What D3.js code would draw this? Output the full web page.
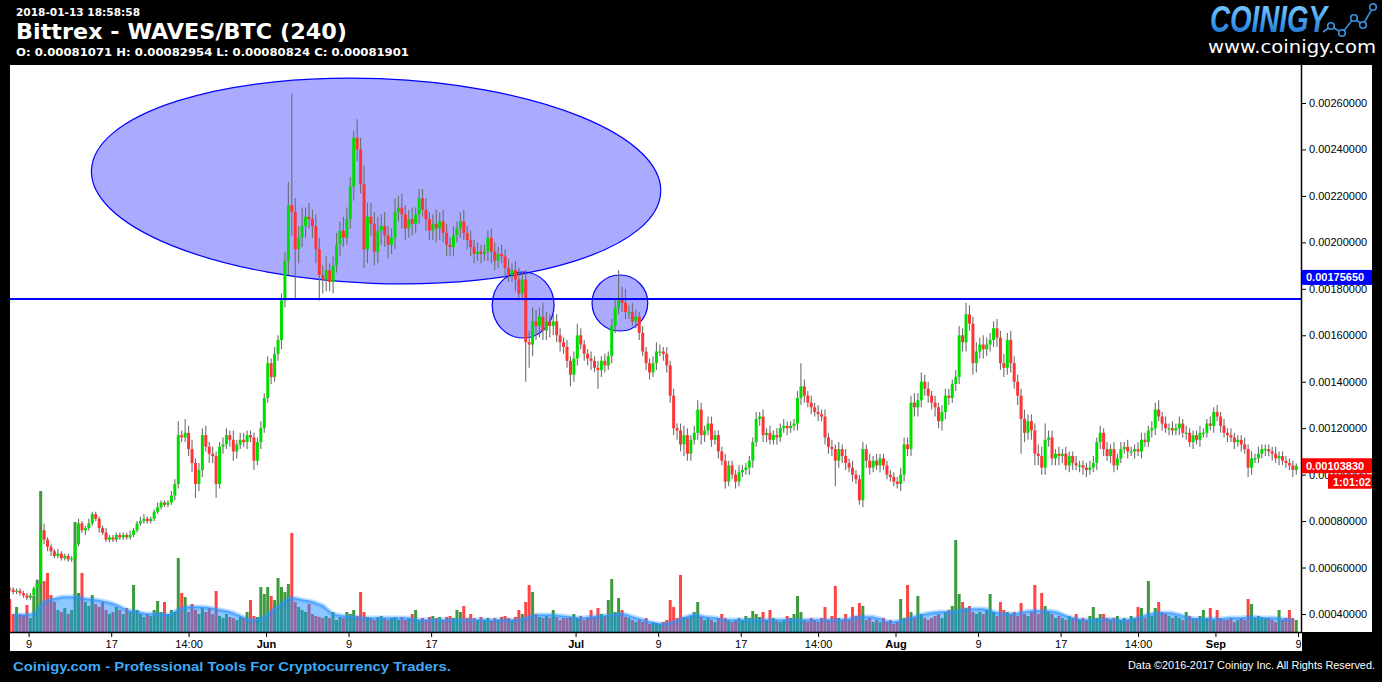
<!DOCTYPE html>
<html><head><meta charset="utf-8">
<script src="https://cdn.jsdelivr.net/npm/d3@7"></script>
<style>html,body{margin:0;padding:0;background:#000;overflow:hidden}</style>
</head><body>
<svg id="chart" width="1382" height="682"></svg>
<script>
// ---------------- DATA ----------------
const PRICE_UNIT = 1e-5;           // values below are in units of 0.00001 BTC
const firstOpen = 51;
const closes = [50.5,49.5,50, 49,48,47, 48,51,53, 76,72,69, 67,65,66, 64,65,63.5, 64,70,79, 76,77,79, 83,81,77, 75,72,73, 72,74,73, 74,73,74, 76,79,80, 81,80,81, 84,86,88, 87,88,91,
 96,117,116, 118,111,105, 96,102,117, 112,109,108, 96,112,113, 117,115,110, 113,115,114, 117,116,106, 114,120,133, 148,142,152, 158,175,192,
 216,213,197, 202,207,211, 210,207,197, 186,184,188, 183,190,199, 205,202,210, 224,245,240, 225,197,211, 208,196,205, 207,203,199, 202,213,215, 212,206,210, 208,212,219, 214,210,205, 208,206,209, 204,199,198, 203,206,209, 204,201,198, 195,196,195, 196,202,196, 192,195,194, 189,186,188, 184,178,184, 157,156,166, 164,168,162, 166,164,166,
 160,157,155, 149,143,150, 160,156,152, 150,149,146, 145,149,147, 151,164,172, 176,174,170, 170,166,168, 161,153,148, 144,148,153, 153,152,147, 134,120,119, 113,117,109, 115,118,128, 117,119,122, 115,117,110, 106,97,104, 100,97,101, 102,103,106, 114,124,125, 117,118,115, 117,116,120, 121,120,121, 122,133,138, 134,131,129, 127,126,125, 116,112,111, 106,111,108, 105,103,100, 98,89,111, 106,103,106, 104,107,104, 100,99,97,
 96,100,113, 111,131,129, 132,140,137, 134,131,129, 123,127,134, 133,139,142, 160,157,169, 165,148,153, 156,154,156, 158,163,159, 148,146,158, 148,140,134, 124,118,123, 119,109,108, 103,115,116, 107,109,108, 109,104,108, 105,104,104, 103,102,103, 105,114,118, 111,108,111, 104,107,111, 112,110,110, 111,110,115, 114,119,120, 128,125,122, 120,120,119, 120,122,118, 118,114,117, 115,118,118, 122,121,127, 125,121,118, 117,116,114, 115,113,111, 103,107,107, 109,111,111, 110,109,107, 108,106,105, 104,102,103.83];
const wickUp = [1,1,1, 1,1,1, 1,1,2, 2,3,1, 1,1,2, 1,1,1, 1,1,2, 1,1,2, 1,1,1, 1,2,1, 1,1,1, 1,1,2, 1,1,2, 2,1,1, 1,2,1, 1,1,2,
 2,6,2, 6,3,4, 2,3,3, 4,2,3, 2,2,3, 3,2,4, 2,3,3, 2,2,2, 2,3,2, 3,2,3, 2,3,4,
 10,48,6, 5,8,4, 6,4,5, 5,4,6, 3,4,5, 4,6,5, 4,3,8, 5,8,6, 6,5,6, 5,6,4, 4,6,5, 6,4,4, 5,3,4, 4,5,3, 4,6,4, 5,4,3, 4,3,4, 5,3,4, 3,4,3, 3,3,4, 4,3,4, 3,4,3, 4,5,3, 4,5,6, 5,4,6, 4,3,4,
 3,3,2, 3,2,3, 5,3,2, 2,3,2, 3,2,3, 2,3,4, 12,5,6, 3,4,3, 2,3,2, 2,3,4, 3,2,3, 2,3,2, 3,4,3, 2,3,4, 3,2,3, 3,2,2, 2,3,2, 2,2,3, 2,2,2, 2,3,2, 3,2,3, 2,3,2, 3,2,2, 2,3,10, 3,2,3, 2,3,2, 3,2,3, 2,3,2, 3,2,3, 2,2,3, 2,3,2, 3,2,2, 2,2,2,
 2,3,3, 3,3,4, 3,4,3, 3,2,3, 2,3,3, 3,2,3, 4,3,5, 4,3,4, 3,4,3, 3,3,4, 3,4,3, 4,3,3, 3,4,3, 3,3,4, 4,7,3, 3,2,3, 2,3,2, 2,3,2, 2,2,3, 3,2,3, 2,3,2, 3,2,3, 2,3,2, 2,3,3, 3,2,3, 3,4,2, 3,2,3, 2,3,2, 3,2,2, 2,3,2, 2,3,2, 3,2,3, 2,3,2, 2,2,3, 2,3,2, 3,2,2, 2,2,3, 2,2,2, 2,2,1];
const wickDn = [1,1,1, 1,1,1, 1,1,1, 1,2,2, 2,1,1, 1,1,1, 1,1,1, 1,2,1, 1,1,2, 1,1,1, 1,1,1, 1,1,1, 1,1,1, 1,1,1, 1,1,1, 1,1,1,
 2,2,2, 2,3,4, 6,3,3, 2,4,3, 6,2,3, 2,3,4, 3,2,2, 3,2,4, 2,3,2, 2,3,2, 3,4,3,
 6,10,21, 6,4,5, 4,5,6, 11,6,5, 4,5,3, 5,4,3, 4,6,5, 4,8,6, 5,6,5, 6,5,6, 4,5,4, 6,5,4, 5,4,4, 3,5,4, 4,6,5, 4,5,4, 4,3,4, 3,4,4, 4,3,4, 3,4,5, 4,3,3, 4,3,3, 5,3,3, 17,10,5, 6,5,4, 4,5,4,
 3,4,3, 3,5,3, 3,2,3, 3,4,2, 8,3,3, 2,3,3, 3,4,3, 3,2,3, 3,2,3, 3,2,3, 2,3,3, 3,3,4, 3,5,3, 3,2,3, 4,3,2, 3,2,3, 2,3,2, 2,3,2, 2,2,3, 3,2,3, 3,3,2, 2,3,2, 2,3,2, 2,3,3, 3,2,3, 2,3,2, 3,3,3, 11,3,3, 3,2,3, 2,2,3, 3,3,2, 2,3,2, 2,2,2,
 2,3,3, 3,3,4, 4,3,3, 3,3,4, 3,4,3, 3,2,3, 3,4,4, 3,5,4, 3,4,3, 3,3,4, 3,4,3, 4,3,4, 15,4,3, 4,5,4, 3,3,3, 3,3,4, 3,2,3, 3,2,3, 3,3,2, 2,3,3, 3,2,3, 3,2,2, 2,3,2, 3,2,3, 2,2,3, 3,2,3, 2,3,2, 2,3,2, 3,2,3, 2,3,2, 2,2,3, 2,3,2, 3,2,3, 2,3,2, 4,3,2, 2,2,3, 2,3,2, 3,2,2, 2,3,2];
const volumes = [33,18,25, 18,17,27, 14,36,52, 141,51,59, 37,30,22, 20,24,18, 22,110,39, 59,30,26, 37,28,25, 30,22,18, 20,25,22, 18,24,20, 47,22,18, 15,18,16, 22,31,20, 30,18,22,
 20,74,39, 35,20,28, 22,18,24, 20,24,18, 41,16,14, 18,15,14, 12,15,14, 20,32,16, 15,45,38, 45,36,32, 54,45,40,
 48,99,30, 25,22,20, 28,18,16, 15,14,16, 14,20,12, 15,14,20, 18,22,16, 40,20,15, 14,12,15, 16,14,12, 14,15,12, 15,12,14, 18,22,12, 14,12,15, 16,14,15, 12,15,16, 14,22,20, 26,14,18, 14,12,15, 12,14,11, 14,12,15, 16,14,12, 15,22,18, 30,47,40, 18,15,14, 16,14,22,
 15,12,14, 14,15,18, 14,16,12, 14,22,15, 24,18,16, 32,53,20, 34,22,15, 14,12,10, 12,10,14, 8,10,9, 8,10,12, 32,25,14, 57,15,14, 16,20,30, 15,12,14, 12,10,14, 18,14,12, 10,12,14, 12,16,14, 21,18,15, 20,12,22, 14,12,10, 12,16,14, 18,36,20, 12,10,14, 12,10,14, 25,12,16, 46,14,12, 18,12,25, 16,29,26, 12,14,10, 12,10,14, 10,12,8,
 10,33,14, 47,20,14, 36,18,14, 12,14,16, 18,14,20, 22,26,92, 38,30,24, 26,20,18, 20,18,22, 38,20,16, 30,22,20, 18,20,16, 29,18,16, 20,47,18, 39,26,20, 18,14,16, 14,12,16, 14,18,12, 14,12,16, 25,14,18, 18,14,12, 14,16,12, 14,12,16, 14,25,24, 14,51,16, 24,30,20, 18,16,14, 16,14,12, 20,16,14, 14,16,22, 14,24,12, 22,14,12, 12,14,10, 12,14,12, 33,28,14, 16,15,14, 14,12,10, 22,12,14, 22,14,12];
// daily volume moving average (same volume units)
const volMA = [17,17,18, 30, 33,35,35,33,32,30,27,22,20,18,18,17,
 22,25,25,24,22,20,16,12,13,20,28, 34,32,30,26,18,16,15, 14,14,14,14,14,
 12,12,12,12,12,12,12,12,12,12,12, 15,17,17,
 16,15,14,15,16,17,18,15,12,9,8,10,14,17,
 15,14,12,12,12,12,12,12,12,12,12,12,12,12,13,15,15,13,
 10,11,14,17,19,20,20,22,23,23,20,18,18,20,21,21,20,
 16,13,12,12,13,12,12,14,17,19,19,17,14,13,13,13,14,14,15,14,14,13,12];
const priceTicks = [0.0004,0.0006,0.0008,0.0010,0.0012,0.0014,0.0016,0.0018,0.0020,0.0022,0.0024,0.0026];
const xTickDates = ["2018-05-09T00:00Z","2018-05-17T00:00Z","2018-05-24T12:00Z","2018-06-01T00:00Z","2018-06-09T00:00Z","2018-06-17T00:00Z","2018-07-01T00:00Z","2018-07-09T00:00Z","2018-07-17T00:00Z","2018-07-24T12:00Z","2018-08-01T00:00Z","2018-08-09T00:00Z","2018-08-17T00:00Z","2018-08-24T12:00Z","2018-09-01T00:00Z","2018-09-09T00:00Z"];
const xTickLabels = ["9","17","14:00","Jun","9","17","Jul","9","17","14:00","Aug","9","17","14:00","Sep","9"];
const monthLabels = ["Jun","Jul","Aug","Sep"];
const hLinePrice = 0.00175650;
const lastPrice = 0.00103830;
const countdown = "1:01:02";
const annotations = [
  {center:"2018-06-11T16:00Z", price:0.0022642, rxDays:27.6, ryPrice:0.000441, rotate:2.2},
  {center:"2018-06-25T22:00Z", price:0.0017303, rxDays:3.0, ryPrice:0.000142, rotate:0},
  {center:"2018-07-05T07:00Z", price:0.0017389, rxDays:2.7, ryPrice:0.0001205, rotate:0}
];
const headerDate = "2018-01-13 18:58:58";
const headerTitle = "Bittrex - WAVES/BTC (240)";
const headerOHLC = "O: 0.00081071 H: 0.00082954 L: 0.00080824 C: 0.00081901";
const footerLeft = "Coinigy.com - Professional Tools For Cryptocurrency Traders.";
const footerRight = "Data ©2016-2017 Coinigy Inc. All Rights Reserved.";

// ---------------- CHART ----------------
const W = 1382, H = 682;
const svg = d3.select('#chart');
const defs = svg.append('defs');
defs.append('clipPath').attr('id','plotClip').append('rect').attr('x',10).attr('y',65).attr('width',1291).attr('height',567);
defs.append('clipPath').attr('id','xAxisClip').append('rect').attr('x',10).attr('y',632).attr('width',1291).attr('height',20);
const grad = defs.append('linearGradient').attr('id','logoGrad').attr('x1',0).attr('y1',0).attr('x2',0).attr('y2',1);
grad.append('stop').attr('offset','0%').attr('stop-color','#8fd6ff');
grad.append('stop').attr('offset','55%').attr('stop-color','#3f9ef0');
grad.append('stop').attr('offset','100%').attr('stop-color','#1560c0');

svg.append('rect').attr('width',W).attr('height',H).attr('fill','#000');
svg.append('rect').attr('x',10).attr('y',65).attr('width',1362).attr('height',567).attr('fill','#fff');
svg.append('rect').attr('x',10).attr('y',632).attr('width',1292).attr('height',19).attr('fill','#fff');

const x = d3.scaleUtc().domain([new Date("2018-06-01T00:00Z"), new Date("2018-09-09T00:00Z")]).range([266,1298]);
const y = d3.scaleLinear().domain([0.0004,0.0026]).range([614,103]);
const vy = d3.scaleLinear().domain([0,140]).range([632,492]);

const t0 = Date.UTC(2018,4,7,4);
const H8 = 8*3600e3, DAY = 24*3600e3;
const candles = closes.map((c,i)=>{
  const o = i===0 ? firstOpen : closes[i-1];
  return {t:new Date(t0+i*H8), o:o*PRICE_UNIT, c:c*PRICE_UNIT,
    h:(Math.max(o,c)+(wickUp[i]||0))*PRICE_UNIT, l:(Math.min(o,c)-(wickDn[i]||0))*PRICE_UNIT, v:volumes[i]||0};
});
const maData = volMA.map((v,d)=>({t:new Date(Date.UTC(2018,4,7,12)+d*DAY), v}));

const plot = svg.append('g').attr('clip-path','url(#plotClip)');
const pxPerDay = x(new Date("2018-06-02T00:00Z")) - x(new Date("2018-06-01T00:00Z"));

// annotations (ellipses) behind candles
annotations.forEach(a=>{
  const cx = x(new Date(a.center)), cy = y(a.price);
  plot.append('ellipse').attr('cx',cx).attr('cy',cy)
    .attr('rx',a.rxDays*pxPerDay).attr('ry',y(a.price-a.ryPrice)-cy)
    .attr('transform',`rotate(${a.rotate},${cx},${cy})`)
    .attr('fill','rgba(0,0,255,0.333)').attr('stroke','#0000ff').attr('stroke-width',1.2);
});

// volume bars
plot.append('g').selectAll('rect').data(candles).join('rect')
  .attr('x',d=>x(d.t)-1.5).attr('width',3)
  .attr('y',d=>vy(d.v)).attr('height',d=>632-vy(d.v))
  .attr('fill',d=>d.c>=d.o ? '#3d9a3d' : '#ff4444');

// volume MA area
const area = d3.area().x(d=>x(d.t)).y0(632).y1(d=>vy(d.v)).curve(d3.curveMonotoneX);
const line = d3.line().x(d=>x(d.t)).y(d=>vy(d.v)).curve(d3.curveMonotoneX);
plot.append('path').datum(maData).attr('d',area).attr('fill','rgba(30,144,255,0.5)');
plot.append('path').datum(maData).attr('d',line).attr('fill','none').attr('stroke','rgba(30,144,255,0.3)').attr('stroke-width',5);
plot.append('path').datum(maData).attr('d',line).attr('fill','none').attr('stroke','rgba(50,150,255,0.7)').attr('stroke-width',1.5);

// candles
const cg = plot.append('g');
cg.selectAll('line').data(candles).join('line')
  .attr('x1',d=>x(d.t)).attr('x2',d=>x(d.t))
  .attr('y1',d=>y(d.h)).attr('y2',d=>y(d.l))
  .attr('stroke','#6e6e6e').attr('stroke-width',1.1);
cg.selectAll('rect').data(candles).join('rect')
  .attr('x',d=>x(d.t)-1.5).attr('width',3)
  .attr('y',d=>y(Math.max(d.o,d.c)))
  .attr('height',d=>Math.max(1.2, Math.abs(y(d.o)-y(d.c))))
  .attr('fill',d=>d.c>=d.o ? '#00dd00' : '#ff3535');

// horizontal line
plot.append('line').attr('x1',10).attr('x2',1301).attr('y1',y(hLinePrice)).attr('y2',y(hLinePrice))
  .attr('stroke','#0000ff').attr('stroke-width',2);

// right axis
const yAxis = d3.axisRight(y).tickValues(priceTicks).tickFormat(d3.format('.8f')).tickSize(5).tickPadding(3);
const ga = svg.append('g').attr('transform','translate(1301,0)').call(yAxis);
ga.select('.domain').remove();
ga.attr('font-family','Liberation Sans, Arial, sans-serif').attr('font-size',11);
ga.selectAll('text').attr('fill','#000');
ga.selectAll('line').attr('stroke','#000');
svg.append('line').attr('x1',1301.5).attr('x2',1301.5).attr('y1',65).attr('y2',633).attr('stroke','#000').attr('stroke-width',1.5);

// bottom axis
const xAxis = d3.axisBottom(x).tickValues(xTickDates.map(s=>new Date(s))).tickFormat((d,i)=>xTickLabels[i]).tickSize(5).tickPadding(3);
const gxo = svg.append('g').attr('clip-path','url(#xAxisClip)');
const gx = gxo.append('g').attr('transform','translate(0,632)').call(xAxis);
gx.select('.domain').remove();
gx.attr('font-family','Liberation Sans, Arial, sans-serif').attr('font-size',11);
gx.selectAll('text').attr('fill','#000')
  .each(function(d,i){ if(monthLabels.includes(xTickLabels[i])) d3.select(this).attr('font-weight','bold'); });
gx.selectAll('line').attr('stroke','#000');
svg.append('line').attr('x1',10).attr('x2',1302).attr('y1',632.5).attr('y2',632.5).attr('stroke','#000').attr('stroke-width',1.5);

// price boxes
const fmt = d3.format('.8f');
const hy = y(hLinePrice);
svg.append('rect').attr('x',1302).attr('y',hy-29).attr('width',70).attr('height',15).attr('fill','#0000ff');
svg.append('text').attr('x',1306).attr('y',hy-17.5).text(fmt(hLinePrice))
  .attr('fill','#fff').attr('font-family','Liberation Sans, Arial, sans-serif').attr('font-size',11).attr('font-weight','bold');
const ly = y(lastPrice);
svg.append('rect').attr('x',1302).attr('y',ly-7.5).attr('width',70).attr('height',15).attr('fill','#ff0000');
svg.append('text').attr('x',1306).attr('y',ly+4).text(fmt(lastPrice))
  .attr('fill','#fff').attr('font-family','Liberation Sans, Arial, sans-serif').attr('font-size',11).attr('font-weight','bold');
svg.append('rect').attr('x',1328).attr('y',ly+8.5).attr('width',44).attr('height',14.5).attr('fill','#ff0000');
svg.append('text').attr('x',1333).attr('y',ly+20).text(countdown)
  .attr('fill','#fff').attr('font-family','Liberation Sans, Arial, sans-serif').attr('font-size',11).attr('font-weight','bold');

// header
const hf = 'DejaVu Sans, Verdana, sans-serif';
svg.append('text').attr('x',16).attr('y',16).text(headerDate).attr('fill','#fff').attr('font-family',hf)
  .attr('font-size',10.5).attr('font-weight','bold').attr('textLength',124).attr('lengthAdjust','spacingAndGlyphs');
svg.append('text').attr('x',16).attr('y',39).text(headerTitle).attr('fill','#fff').attr('font-family',hf)
  .attr('font-size',22).attr('font-weight','bold').attr('textLength',331).attr('lengthAdjust','spacingAndGlyphs');
svg.append('text').attr('x',16).attr('y',56).text(headerOHLC).attr('fill','#fff').attr('font-family',hf)
  .attr('font-size',10.5).attr('font-weight','bold').attr('textLength',393).attr('lengthAdjust','spacingAndGlyphs');

// logo
svg.append('text').attr('x',1210).attr('y',32).text('COINIGY').attr('fill','url(#logoGrad)')
  .attr('font-family','Liberation Sans, Arial, sans-serif').attr('font-size',37).attr('font-weight','bold').attr('font-style','italic')
  .attr('textLength',117).attr('lengthAdjust','spacingAndGlyphs');
const iconPts = [[1323,32],[1331,26],[1342,33],[1354,18],[1363,25],[1373,7]];
svg.append('polyline').attr('points',iconPts.map(p=>p.join(',')).join(' ')).attr('fill','none').attr('stroke','#3a8fe0').attr('stroke-width',1.6);
svg.append('g').selectAll('circle').data(iconPts.slice(1)).join('circle')
  .attr('cx',d=>d[0]).attr('cy',d=>d[1]).attr('r',3.3).attr('fill','#000').attr('stroke','#3a8fe0').attr('stroke-width',1.6);
svg.append('text').attr('x',1208).attr('y',53).text('www.coinigy.com').attr('fill','#fff')
  .attr('font-family','DejaVu Sans, sans-serif').attr('font-size',17).attr('textLength',168).attr('lengthAdjust','spacingAndGlyphs');

// footer
svg.append('text').attr('x',13).attr('y',671).text(footerLeft).attr('fill','#3fa9f5')
  .attr('font-family','Liberation Sans, Arial, sans-serif').attr('font-size',13).attr('font-weight','bold')
  .attr('textLength',438).attr('lengthAdjust','spacingAndGlyphs');
svg.append('text').attr('x',1128).attr('y',669).text(footerRight).attr('fill','#fff')
  .attr('font-family','Liberation Sans, Arial, sans-serif').attr('font-size',10)
  .attr('textLength',247).attr('lengthAdjust','spacingAndGlyphs');
</script></body></html>
